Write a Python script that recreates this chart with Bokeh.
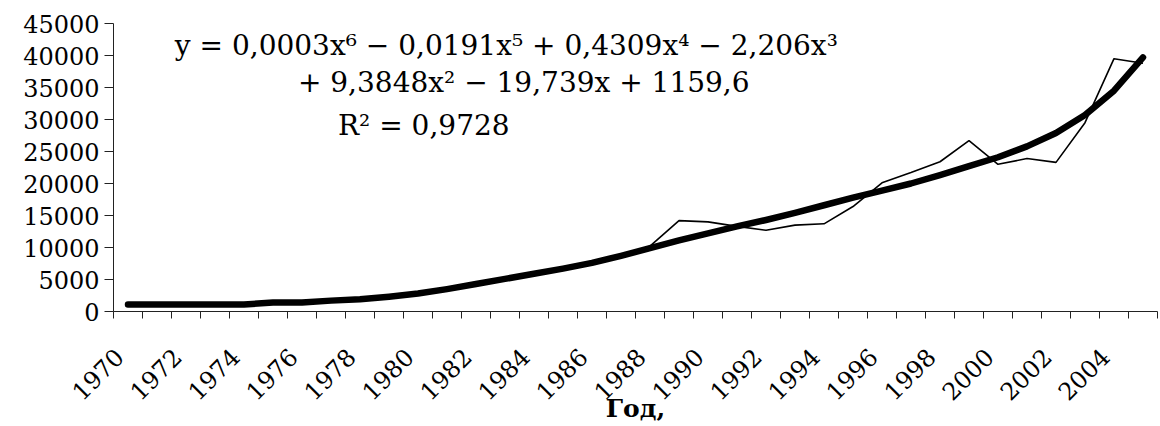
import math
from bokeh.plotting import figure
from bokeh.models import Range1d, FixedTicker, BasicTickFormatter, Label
from bokeh.embed import file_html
from bokeh.resources import INLINE

# ---- data ----
years = list(range(1970, 2006))
actual = [1100, 1100, 1100, 1100, 1100, 1400, 1400, 1700, 1900, 2300,
          2800, 3500, 4300, 5100, 5900, 6700, 7600, 8700, 10200, 14200,
          14000, 13300, 12700, 13500, 13700, 16400, 20100, 21700, 23400, 26700,
          23000, 23900, 23300, 29500, 39500, 38800]
trend = [1100, 1100, 1100, 1100, 1100, 1400, 1400, 1700, 1900, 2300,
         2800, 3500, 4300, 5100, 5900, 6700, 7600, 8700, 9900, 11100,
         12200, 13300, 14300, 15400, 16600, 17800, 18900, 20000, 21300, 22700,
         24100, 25800, 27900, 30700, 34500, 39700]
y_ticks = [0, 5000, 10000, 15000, 20000, 25000, 30000, 35000, 40000, 45000]
x_label_years = list(range(1970, 2005, 2))
equation_lines = ["y = 0,0003x\u2076 \u2212 0,0191x\u2075  + 0,4309x\u2074 \u2212 2,206x\u00b3",
                  "+ 9,3848x\u00b2  \u2212 19,739x + 1159,6",
                  "R\u00b2 = 0,9728"]
x_title = "Год,"

FONT = "DejaVu Serif"
W, H = 1160, 426
p = figure(width=W, height=H, output_backend="svg", toolbar_location=None,
           x_range=Range1d(1969.5, 2005.5), y_range=Range1d(0, 45000),
           min_border_left=113, min_border_right=3, min_border_top=23,
           min_border_bottom=114)
p.outline_line_color = None
p.xgrid.visible = False
p.ygrid.visible = False
p.background_fill_color = "white"
p.border_fill_color = "white"

# lines
p.line(years, actual, line_color="black", line_width=1.6)
p.line(years, trend, line_color="black", line_width=6.5, line_cap="round", line_join="round")

# y axis
ya = p.yaxis[0]
ya.ticker = FixedTicker(ticks=y_ticks)
ya.formatter = BasicTickFormatter(use_scientific=False)
ya.major_tick_out = 9
ya.major_tick_in = 0
ya.minor_tick_out = 0
ya.minor_tick_in = 0
ya.axis_line_color = "#222222"
ya.major_tick_line_color = "#222222"
ya.major_label_text_font = FONT
ya.major_label_text_font_size = "24px"
ya.major_label_text_color = "black"
ya.major_label_standoff = 5

# x axis: category boundaries as small ticks, every 2nd year labelled
xa = p.xaxis[0]
boundaries = [y - 0.5 for y in years] + [years[-1] + 0.5]
label_shift = 0.3  # rotated labels end at the category centre
label_ticks = [yr - label_shift for yr in x_label_years]
xa.ticker = FixedTicker(ticks=label_ticks, minor_ticks=boundaries)
xa.major_label_overrides = {t: str(yr) for t, yr in zip(label_ticks, x_label_years)}
xa.major_tick_out = 0
xa.major_tick_in = 0
xa.minor_tick_out = 7
xa.minor_tick_in = 0
xa.minor_tick_line_color = "#222222"
xa.axis_line_color = "#222222"
xa.major_label_orientation = math.pi / 4
xa.major_label_text_font = FONT
xa.major_label_text_font_size = "24px"
xa.major_label_text_color = "black"
xa.major_label_standoff = 34
xa.axis_label = x_title
xa.axis_label_text_font = FONT
xa.axis_label_text_font_style = "bold"
xa.axis_label_text_font_size = "25px"
xa.axis_label_text_color = "black"
xa.axis_label_standoff = -17

# equation text (positions given in data coordinates of the frame)
eq_pos = [(1983.2, 41570), (1983.8, 35810), (1980.2, 29120)]
for (tx, ty), txt in zip(eq_pos, equation_lines):
    p.add_layout(Label(x=tx, y=ty, text=txt, text_align="center",
                       text_baseline="middle", text_font=FONT,
                       text_font_size="28px", text_color="black"))

open("out.html", "w").write(file_html(p, INLINE))
